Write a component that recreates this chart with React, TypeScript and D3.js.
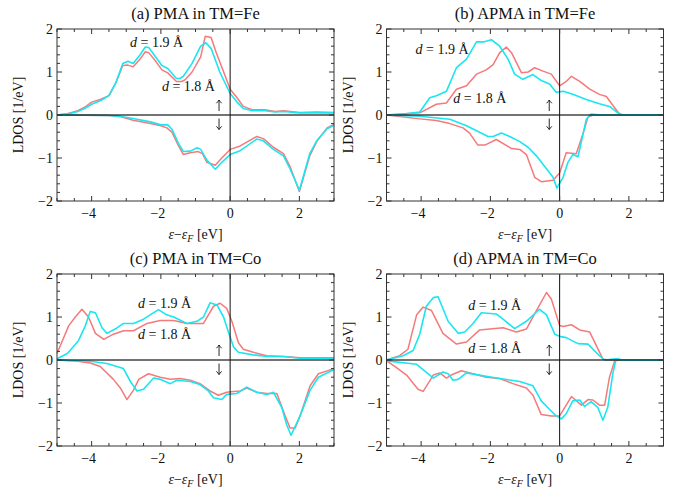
import React from 'react';
import * as d3 from 'd3';

type P = [number, number];

const xTicks = [-4, -2, 0, 2];
const yTicks = [-2, -1, 0, 1, 2];
const titles = ['(a) PMA in TM=Fe', '(b) APMA in TM=Fe', '(c) PMA in TM=Co', '(d) APMA in TM=Co'];

// (a) PMA Fe
const aUp19: P[] = [[-5,0],[-4.7,0.02],[-4.4,0.08],[-4.2,0.15],[-4.0,0.25],[-3.75,0.33],[-3.5,0.45],[-3.3,0.75],[-3.1,1.2],[-2.95,1.25],[-2.8,1.2],[-2.6,1.4],[-2.45,1.58],[-2.35,1.57],[-2.15,1.35],[-1.97,1.15],[-1.8,1.08],[-1.55,0.85],[-1.45,0.85],[-1.35,0.9],[-1.1,1.2],[-0.85,1.6],[-0.7,1.68],[-0.55,1.55],[-0.3,1.0],[-0.15,0.75],[0,0.5],[0.2,0.3],[0.38,0.15],[0.65,0.1],[1.0,0.1],[1.3,0.07],[1.55,0.08],[2.0,0.05],[2.5,0.05],[3,0.05]];
const aUp18: P[] = [[-5,0],[-4.7,0.03],[-4.4,0.1],[-4.2,0.18],[-4.0,0.3],[-3.75,0.36],[-3.5,0.45],[-3.3,0.75],[-3.1,1.15],[-2.95,1.16],[-2.8,1.12],[-2.6,1.3],[-2.45,1.47],[-2.35,1.45],[-2.15,1.25],[-1.97,1.05],[-1.8,0.98],[-1.55,0.78],[-1.4,0.78],[-1.3,0.82],[-1.1,1.0],[-0.85,1.35],[-0.72,1.83],[-0.55,1.8],[-0.4,1.45],[-0.28,1.2],[-0.14,0.9],[0,0.6],[0.2,0.4],[0.38,0.2],[0.65,0.12],[1.0,0.12],[1.3,0.08],[1.55,0.1],[2.0,0.06],[2.5,0.07],[3,0.06]];
const aDn19: P[] = [[-5,0],[-3.5,-0.01],[-3.1,-0.04],[-2.8,-0.08],[-2.3,-0.16],[-2.0,-0.23],[-1.8,-0.23],[-1.68,-0.33],[-1.5,-0.65],[-1.35,-0.85],[-1.15,-0.84],[-0.95,-0.76],[-0.85,-0.8],[-0.67,-1.05],[-0.43,-1.26],[-0.24,-1.1],[0,-0.92],[0.29,-0.83],[0.77,-0.56],[0.96,-0.6],[1.25,-0.8],[1.54,-0.95],[1.73,-1.25],[2.0,-1.75],[2.3,-0.9],[2.5,-0.6],[2.8,-0.32],[3,-0.24]];
const aDn18: P[] = [[-5,0],[-3.5,-0.01],[-3.2,-0.03],[-2.8,-0.12],[-2.3,-0.2],[-2.0,-0.25],[-1.83,-0.3],[-1.68,-0.4],[-1.5,-0.7],[-1.35,-0.92],[-1.15,-0.88],[-0.92,-0.85],[-0.8,-0.9],[-0.67,-1.1],[-0.43,-1.17],[-0.24,-1.0],[0,-0.8],[0.29,-0.72],[0.77,-0.5],[0.96,-0.55],[1.25,-0.75],[1.54,-0.9],[1.73,-1.2],[2.0,-1.78],[2.3,-0.95],[2.5,-0.62],[2.8,-0.3],[3,-0.22]];

// (b) APMA Fe
const bUp19: P[] = [[-5,0],[-4.5,0.02],[-4.04,0.07],[-3.75,0.4],[-3.56,0.45],[-3.27,0.55],[-2.98,1.1],[-2.69,1.3],[-2.4,1.7],[-2.2,1.7],[-1.97,1.75],[-1.73,1.6],[-1.49,1.3],[-1.3,0.95],[-1.06,0.83],[-0.77,0.94],[-0.53,0.8],[-0.29,0.72],[-0.1,0.53],[0.1,0.55],[0.38,0.48],[0.77,0.36],[1.15,0.26],[1.44,0.2],[1.68,0.05],[1.83,0],[3,0]];
const bUp18: P[] = [[-5,0],[-4.04,0.05],[-3.56,0.25],[-3.27,0.28],[-2.98,0.6],[-2.69,0.68],[-2.4,0.95],[-2.12,1.05],[-1.92,1.17],[-1.73,1.45],[-1.54,1.58],[-1.39,1.45],[-1.1,0.98],[-0.91,1.0],[-0.72,1.1],[-0.48,1.02],[-0.24,0.95],[0,0.68],[0.19,0.78],[0.34,0.9],[0.58,0.78],[0.87,0.6],[1.15,0.48],[1.35,0.43],[1.54,0.22],[1.75,0],[3,0]];
const bDn19: P[] = [[-5,0],[-4.04,-0.03],[-3.17,-0.1],[-2.69,-0.25],[-2.31,-0.4],[-2.07,-0.5],[-1.92,-0.5],[-1.68,-0.42],[-1.44,-0.5],[-1.15,-0.62],[-0.91,-0.75],[-0.67,-0.95],[-0.38,-1.25],[-0.19,-1.45],[-0.08,-1.7],[0.1,-1.45],[0.24,-1.1],[0.38,-0.92],[0.53,-0.97],[0.77,-0.1],[0.91,0.02],[1.2,0],[3,0]];
const bDn18: P[] = [[-5,0],[-4.04,-0.09],[-3.56,-0.13],[-3.17,-0.2],[-2.79,-0.3],[-2.6,-0.42],[-2.36,-0.7],[-2.16,-0.7],[-1.83,-0.57],[-1.39,-0.78],[-1.15,-0.8],[-0.96,-0.92],[-0.72,-1.45],[-0.53,-1.55],[-0.19,-1.52],[0,-1.35],[0.19,-0.88],[0.48,-0.9],[0.67,-0.45],[0.82,-0.05],[0.96,0],[3,0]];

// (c) PMA Co
const cUp18: P[] = [[-5,0.15],[-4.66,0.8],[-4.47,1.0],[-4.28,1.18],[-4.09,1.0],[-3.89,0.62],[-3.65,0.48],[-3.37,0.6],[-3.08,0.68],[-2.79,0.68],[-2.4,0.85],[-2.02,0.92],[-1.63,0.92],[-1.25,0.85],[-0.96,0.85],[-0.77,0.85],[-0.48,1.25],[-0.29,1.32],[-0.1,1.2],[0.05,0.9],[0.24,0.4],[0.38,0.25],[0.67,0.18],[1.06,0.1],[1.54,0.08],[2.02,0.05],[3,0.05]];
const cUp19: P[] = [[-5,0.03],[-4.7,0.15],[-4.38,0.45],[-4.18,0.8],[-4.04,1.13],[-3.89,1.1],[-3.7,0.75],[-3.56,0.62],[-3.32,0.72],[-3.08,0.85],[-2.79,0.85],[-2.5,0.95],[-2.07,1.17],[-1.83,1.05],[-1.63,1.0],[-1.25,0.85],[-0.96,0.9],[-0.77,1.0],[-0.58,1.33],[-0.38,1.28],[-0.19,1.0],[-0.05,0.65],[0.1,0.3],[0.24,0.18],[0.67,0.12],[1.06,0.08],[1.54,0.08],[2.02,0.04],[3,0.04]];
const cDn18: P[] = [[-5,0],[-4.4,-0.03],[-4.04,-0.07],[-3.75,-0.15],[-3.37,-0.45],[-3.17,-0.65],[-2.98,-0.92],[-2.79,-0.7],[-2.64,-0.45],[-2.36,-0.32],[-2.02,-0.4],[-1.73,-0.45],[-1.44,-0.43],[-1.15,-0.47],[-0.87,-0.55],[-0.58,-0.72],[-0.34,-0.82],[-0.1,-0.75],[0.1,-0.73],[0.29,-0.72],[0.48,-0.65],[0.77,-0.75],[1.06,-0.78],[1.35,-0.78],[1.59,-1.3],[1.73,-1.58],[1.88,-1.58],[2.02,-1.3],[2.31,-0.6],[2.55,-0.32],[3,-0.2]];
const cDn19: P[] = [[-5,0],[-4.04,-0.03],[-3.56,-0.08],[-3.08,-0.2],[-2.88,-0.5],[-2.69,-0.72],[-2.5,-0.68],[-2.21,-0.42],[-2.02,-0.45],[-1.73,-0.55],[-1.54,-0.47],[-1.15,-0.5],[-0.87,-0.57],[-0.63,-0.72],[-0.48,-0.88],[-0.24,-0.92],[-0.1,-0.8],[0.19,-0.78],[0.48,-0.63],[0.77,-0.75],[1.06,-0.8],[1.25,-0.75],[1.49,-1.1],[1.63,-1.5],[1.76,-1.75],[2.02,-1.3],[2.31,-0.7],[2.55,-0.4],[3,-0.22]];

// (d) APMA Co
const dUp18: P[] = [[-5,0],[-4.62,0.1],[-4.38,0.25],[-4.13,1.05],[-3.94,1.23],[-3.7,1.15],[-3.37,0.62],[-2.98,0.37],[-2.69,0.42],[-2.31,0.7],[-2.02,0.72],[-1.63,0.75],[-1.25,0.65],[-0.96,0.72],[-0.67,1.15],[-0.38,1.57],[-0.24,1.42],[0,0.8],[0.1,0.78],[0.34,0.82],[0.58,0.7],[0.87,0.65],[1.25,0.02],[1.44,0],[3,0]];
const dUp19: P[] = [[-5,0],[-4.52,0.1],[-4.23,0.22],[-4.04,0.6],[-3.85,1.25],[-3.65,1.45],[-3.51,1.47],[-3.22,0.9],[-2.93,0.62],[-2.74,0.65],[-2.5,0.85],[-2.26,1.1],[-1.83,1.07],[-1.59,0.92],[-1.3,0.73],[-0.96,0.9],[-0.58,1.18],[-0.38,1.05],[-0.14,0.6],[0,0.55],[0.19,0.52],[0.53,0.38],[0.82,0.37],[1.15,0.1],[1.3,0],[1.63,0.03],[1.85,0],[3,0]];
const dDn18: P[] = [[-5,-0.02],[-4.76,-0.15],[-4.42,-0.35],[-4.09,-0.68],[-3.94,-0.73],[-3.8,-0.55],[-3.65,-0.35],[-3.46,-0.3],[-3.27,-0.42],[-3.13,-0.35],[-2.84,-0.25],[-2.5,-0.32],[-2.12,-0.4],[-1.73,-0.43],[-1.35,-0.55],[-0.96,-0.65],[-0.77,-0.82],[-0.53,-1.27],[-0.24,-1.3],[0,-1.3],[0.34,-0.85],[0.63,-1.05],[0.82,-0.92],[0.96,-0.93],[1.15,-1.05],[1.3,-1.05],[1.44,-0.4],[1.59,-0.02],[1.75,0],[3,0]];
const dDn19: P[] = [[-5,-0.02],[-4.13,-0.1],[-3.75,-0.35],[-3.65,-0.42],[-3.37,-0.28],[-3.22,-0.32],[-3.08,-0.47],[-2.93,-0.45],[-2.69,-0.3],[-2.12,-0.38],[-1.73,-0.43],[-1.15,-0.5],[-0.77,-0.6],[-0.53,-0.95],[-0.29,-1.15],[-0.1,-1.3],[0.05,-1.37],[0.19,-1.25],[0.38,-0.95],[0.58,-0.93],[0.72,-1.08],[0.91,-0.97],[1.1,-1.1],[1.25,-1.4],[1.39,-1.1],[1.54,-0.3],[1.63,0.03],[1.8,0],[3,0]];

// annotation anchors in data coordinates: [x19, y19, x18, y18, arrowX, upY, downY]
const annotA = [-2.89, 1.59, -1.97, 0.55, -0.32, 0.22, -0.21];
const annotB = [-4.16, 1.41, -3.07, 0.27, -0.3, 0.22, -0.21];
const annotC = [-2.66, 1.22, -2.66, 0.48, -0.32, 0.22, -0.21];
const annotD = [-2.64, 1.17, -2.64, 0.17, -0.3, 0.22, -0.21];

const RED = '#f47a7c';
const CYAN = '#1ae6f0';
const FONT = '"Liberation Serif", "Times New Roman", serif';

interface PanelProps {
  left: number; top: number; title: string;
  up19: P[]; up18: P[]; dn19: P[]; dn18: P[]; annot: number[];
}

function Arrow({ cx, cy, dir }: { cx: number; cy: number; dir: 1 | -1 }) {
  // vertical thin arrow, 11px tall, drawn around (cx, cy); dir=1 up, -1 down
  const h = 5.5;
  const tipY = cy - dir * h;
  const tailY = cy + dir * h;
  return (
    <g stroke="#111" strokeWidth={0.9} fill="none">
      <line x1={cx} x2={cx} y1={tailY} y2={tipY} />
      <path d={`M${cx - 2.6},${tipY + dir * 3.2} Q${cx - 0.8},${tipY + dir * 1.2} ${cx},${tipY} Q${cx + 0.8},${tipY + dir * 1.2} ${cx + 2.6},${tipY + dir * 3.2}`} />
    </g>
  );
}

function Panel({ left, top, title, up19, up18, dn19, dn18, annot }: PanelProps) {
  const W = 277, H = 172;
  const x = d3.scaleLinear().domain([-5, 3]).range([0, W]);
  const y = d3.scaleLinear().domain([-2, 2]).range([H, 0]);
  const line = d3.line<P>().x(d => x(d[0])).y(d => y(d[1]));
  const xMinor = d3.range(-5, 3.001, 0.5);
  const yMinor = d3.range(-2, 2.001, 0.2);
  const isMajX = (v: number) => xTicks.some(t => Math.abs(t - v) < 1e-6);
  const isMajY = (v: number) => yTicks.some(t => Math.abs(t - v) < 1e-6);
  const frame = '#333';
  const fmt = (v: number) => (v < 0 ? '\u2212' + Math.abs(v) : String(v));
  return (
    <g transform={`translate(${left},${top})`} fontFamily={FONT}>
      <text x={W / 2} y={-10} textAnchor="middle" fontSize={16.5} fill="#111">{title}</text>
      {[dn18, up18].map((s, i) => (
        <path key={'r' + i} d={line(s) || ''} fill="none" stroke={RED} strokeWidth={1.5} strokeLinejoin="round" />
      ))}
      {[dn19, up19].map((s, i) => (
        <path key={'c' + i} d={line(s) || ''} fill="none" stroke={CYAN} strokeWidth={1.6} strokeLinejoin="round" />
      ))}
      <line x1={0} x2={W} y1={y(0)} y2={y(0)} stroke="#000" strokeOpacity={0.55} strokeWidth={2.2} />
      <line x1={x(0)} x2={x(0)} y1={0} y2={H} stroke="#111" strokeWidth={1} />
      <rect x={0} y={0} width={W} height={H} fill="none" stroke={frame} strokeWidth={1} />
      {xMinor.map((v, i) => {
        const L = isMajX(v) ? 5 : 3;
        return (
          <g key={'xt' + i}>
            <line x1={x(v)} x2={x(v)} y1={H} y2={H - L} stroke={frame} />
            <line x1={x(v)} x2={x(v)} y1={0} y2={L} stroke={frame} />
          </g>
        );
      })}
      {yMinor.map((v, i) => {
        const L = isMajY(v) ? 5 : 3;
        return (
          <g key={'yt' + i}>
            <line x1={0} x2={L} y1={y(v)} y2={y(v)} stroke={frame} />
            <line x1={W} x2={W - L} y1={y(v)} y2={y(v)} stroke={frame} />
          </g>
        );
      })}
      {xTicks.map(v => (
        <text key={'xl' + v} x={x(v) - (v < 0 ? 3 : 0)} y={H + 17} textAnchor="middle" fontSize={14} fill="#111">{fmt(v)}</text>
      ))}
      {yTicks.map(v => (
        <text key={'yl' + v} x={-4} y={y(v) + 5} textAnchor="end" fontSize={14} fill="#111">{fmt(v)}</text>
      ))}
      <text x={W / 2} y={H + 38} textAnchor="middle" fontSize={14} fill="#111">
        <tspan fontStyle="italic">ε</tspan>
        <tspan>{'\u2212'}</tspan>
        <tspan fontStyle="italic">ε</tspan>
        <tspan fontStyle="italic" fontSize={10} dy={3}>F</tspan>
        <tspan dy={-3}>{' [eV]'}</tspan>
      </text>
      <text transform={`translate(${-34},${H / 2}) rotate(-90)`} textAnchor="middle" fontSize={14} fill="#111">
        LDOS [1/eV]
      </text>
      <text x={x(annot[0])} y={y(annot[1])} fontSize={14} fill="#111">
        <tspan fontStyle="italic">d</tspan>
        <tspan>{' = 1.9 \u00C5'}</tspan>
      </text>
      <text x={x(annot[2])} y={y(annot[3])} fontSize={14} fill="#111">
        <tspan fontStyle="italic">d</tspan>
        <tspan>{' = 1.8 \u00C5'}</tspan>
      </text>
      <Arrow cx={x(annot[4])} cy={y(annot[5])} dir={1} />
      <Arrow cx={x(annot[4])} cy={y(annot[6])} dir={-1} />
    </g>
  );
}

export default function App() {
  return (
    <svg width={673} height={491} style={{ position: 'absolute', left: 0, top: 0, background: '#fff' }}>
      <Panel left={57} top={29} title={titles[0]} up19={aUp19} up18={aUp18} dn19={aDn19} dn18={aDn18} annot={annotA} />
      <Panel left={386.5} top={29} title={titles[1]} up19={bUp19} up18={bUp18} dn19={bDn19} dn18={bDn18} annot={annotB} />
      <Panel left={57} top={274} title={titles[2]} up19={cUp19} up18={cUp18} dn19={cDn19} dn18={cDn18} annot={annotC} />
      <Panel left={386.5} top={274} title={titles[3]} up19={dUp19} up18={dUp18} dn19={dDn19} dn18={dDn18} annot={annotD} />
    </svg>
  );
}
